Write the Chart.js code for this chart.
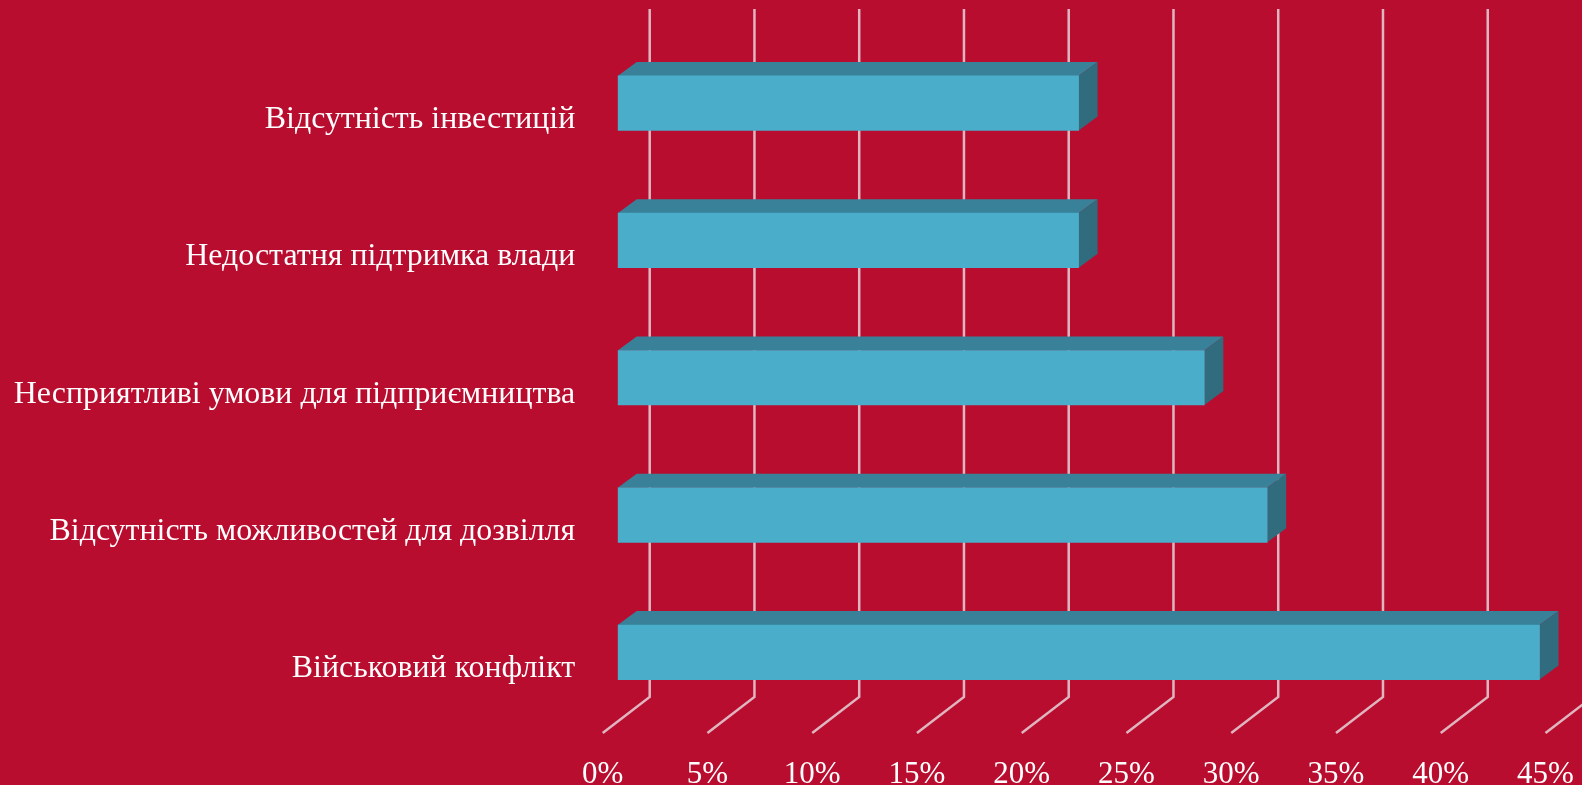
<!DOCTYPE html>
<html>
<head>
<meta charset="utf-8">
<title>Chart</title>
<script src="https://cdn.jsdelivr.net/npm/chart.js@4"></script>
<style>
    html, body { margin: 0; padding: 0; background: #b90d2f; overflow: hidden; }
    canvas { display: block; filter: blur(0.5px); }
</style>
</head>
<body>
<canvas id="barChart" width="1582" height="785"></canvas>
<script>
const categories = [
    'Відсутність інвестицій',
    'Недостатня підтримка влади',
    'Несприятливі умови для підприємництва',
    'Відсутність можливостей для дозвілля',
    'Військовий конфлікт'
];
const shares = [22, 22, 28, 31, 44];
const axisMax = 45;
const axisStep = 5;

const fontFamily = '"Liberation Serif", serif';

// Chart.js adds room for overhanging tick labels, the chart area here is fixed
function clearPadding(scale) {
    scale.paddingTop = 0;
    scale.paddingBottom = 0;
    scale.paddingLeft = 0;
    scale.paddingRight = 0;
}

// The fake 3D box: wall/floor lines behind the bars, top and side faces on each bar
const box3d = {
    id: 'box3d',
    beforeDatasetsDraw(chart) {
        const ctx = chart.ctx;
        const xScale = chart.scales.x;

        ctx.save();
        ctx.strokeStyle = '#dfb6c0';
        ctx.lineWidth = 2.5;
        xScale.ticks.forEach(tick => {
            const x = xScale.getPixelForValue(tick.value);
            ctx.beginPath();
            ctx.moveTo(x + 32, 9);
            ctx.lineTo(x + 32, 697);
            ctx.lineTo(x - 15, 733);
            ctx.stroke();
        });

        chart.getDatasetMeta(0).data.forEach(bar => {
            const top = bar.y - bar.height / 2;
            const bottom = bar.y + bar.height / 2;

            ctx.fillStyle = '#388199';
            ctx.beginPath();
            ctx.moveTo(bar.base, top);
            ctx.lineTo(bar.base + 19, top - 14);
            ctx.lineTo(bar.x + 19, top - 14);
            ctx.lineTo(bar.x, top);
            ctx.closePath();
            ctx.fill();

            ctx.fillStyle = '#306c7e';
            ctx.beginPath();
            ctx.moveTo(bar.x, top);
            ctx.lineTo(bar.x + 19, top - 14);
            ctx.lineTo(bar.x + 19, bottom - 14);
            ctx.lineTo(bar.x, bottom);
            ctx.closePath();
            ctx.fill();
        });
        ctx.restore();
    }
};

new Chart(document.getElementById('barChart'), {
    type: 'bar',
    plugins: [box3d],
    data: {
        labels: categories,
        datasets: [{
            data: shares,
            backgroundColor: '#4aadc9',
            barThickness: 54.5
        }]
    },
    options: {
        indexAxis: 'y',
        responsive: false,
        animation: false,
        layout: { padding: { top: 34.5, right: 21.5, bottom: 0, left: 0 } },
        plugins: {
            legend: { display: false },
            tooltip: { enabled: false }
        },
        scales: {
            x: {
                min: 0,
                max: axisMax,
                afterFit(scale) {
                    scale.height = 64;
                    clearPadding(scale);
                },
                border: { display: false },
                grid: { display: false },
                ticks: {
                    stepSize: axisStep,
                    autoSkip: false,
                    maxRotation: 0,
                    color: '#ffffff',
                    font: { family: fontFamily, size: 31 },
                    padding: 27,
                    labelOffset: -15,
                    callback: value => value + '%'
                }
            },
            y: {
                afterFit(scale) {
                    scale.width = 617.7;
                    clearPadding(scale);
                },
                border: { display: false },
                grid: { display: false },
                ticks: {
                    autoSkip: false,
                    color: '#ffffff',
                    font: { family: fontFamily, size: 31.9 },
                    padding: 34.5,
                    labelOffset: 16.5
                }
            }
        }
    }
});
</script>
</body>
</html>
